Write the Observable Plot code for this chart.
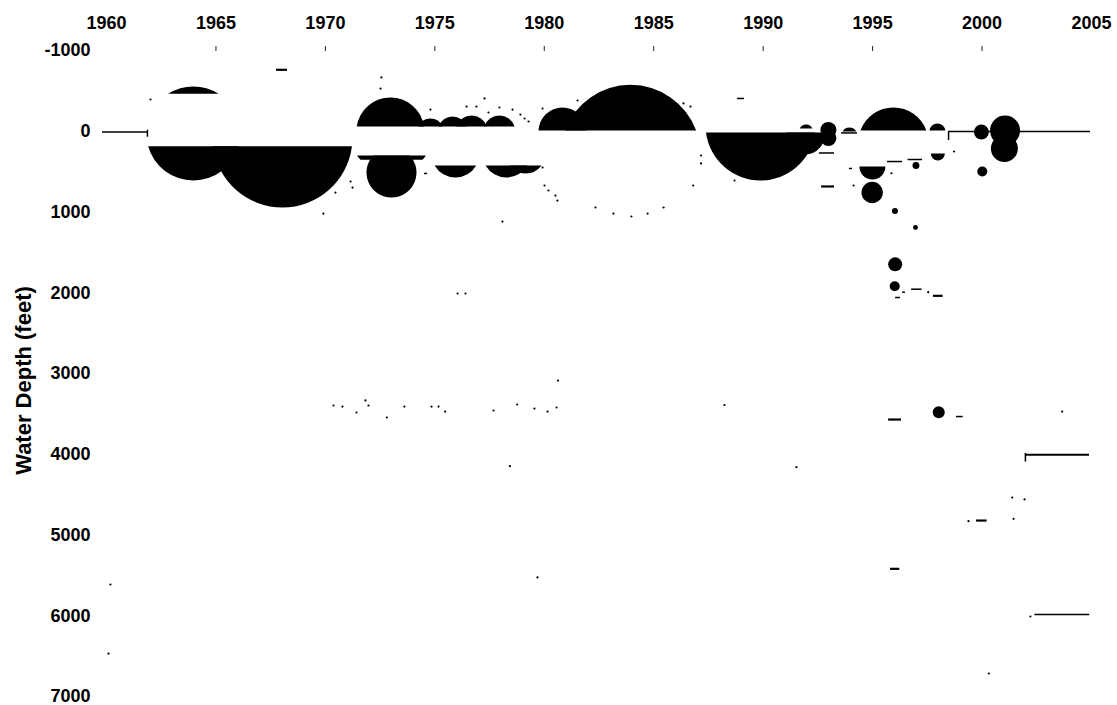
<!DOCTYPE html>
<html>
<head>
<meta charset="utf-8">
<script src="https://cdn.jsdelivr.net/npm/d3@7"></script>
<script src="https://cdn.jsdelivr.net/npm/@observablehq/plot@0.6"></script>
<style>
  html, body { margin: 0; padding: 0; background: #fff; }
  #chart svg { display: block; }
</style>
</head>
<body>
<div id="chart"></div>
<script>
// ---------- axis values ----------
const xLabelYears = [1960, 1965, 1970, 1975, 1980, 1985, 1990, 1995, 2000, 2005];
const xTickYears = [1965, 1970, 1975, 1980, 1985, 1990, 1995, 2000];
const yTickValues = [-1000, 0, 1000, 2000, 3000, 4000, 5000, 6000, 7000];
const yTitle = "Water Depth (feet)";

// ---------- bubbles (year, water depth, size) and the depth band in which each is visible ----------
const bubbleYear  = [1963.97, 1963.97, 1968.04, 1972.97, 1974.80, 1975.81, 1976.68, 1977.95, 1973.02, 1973.02,
                     1975.94, 1978.27, 1979.14, 1980.83, 1983.94, 1989.88, 1991.93, 1991.96, 1992.98, 1992.98,
                     1993.94, 1995.95, 1997.96, 1994.99, 1994.98, 1996.98, 1997.98, 2000.01, 1999.97, 2001.05,
                     2001.02, 1996.02, 1996.96, 1996.03, 1996.01, 1998.02];
const bubbleDepth = [28, 28, 77, 3, 3, 3, 3, 3, 3, 511,
                     276, 276, 276, 3, 292, -71, 52, 3, -16, 84,
                     52, 139, 3, 437, 759, 424, 276, 499, 9, -9,
                     214, 988, 1192, 1648, 1920, 3479];
const bubbleSize  = [2209, 2209, 4900, 1156, 169, 225, 256, 256, 1764, 625,
                     576, 576, 400, 576, 4900, 3025, 361, 49, 64, 64,
                     64, 1225, 64, 169, 114, 12, 49, 25, 56, 225,
                     182, 9, 6, 49, 25, 36];
const bubbleShowFrom = [null, 185, 185, null, null, null, null, null, 300, 300,
                        424, 424, 424, null, null, 16, 16, null, null, null,
                        null, null, null, 437, null, null, 276, null, null, null,
                        null, null, null, null, null, null];
const bubbleShowTo   = [-464, null, null, -59, -59, -59, -59, -59, 354, null,
                        null, null, null, -9, -9, null, null, -34, null, null,
                        3, -9, -9, null, null, null, null, null, null, null,
                        null, null, null, null, null, null];

// ---------- horizontal line pieces (from year, to year, depth) ----------
const thinFrom  = [1959.82, 1998.47, 1993.58, 1992.57, 1993.94, 1995.68, 1996.62, 1988.83, 1974.53, 1996.78, 1996.37, 1996.05, 1998.83, 2002.41];
const thinTo    = [1961.87, 2004.95, 1994.31, 1993.26, 1994.08, 1996.37, 1997.28, 1989.15, 1974.67, 1997.26, 1996.50, 1996.27, 1999.14, 2004.92];
const thinDepth = [10, 3, 21, 269, 461, 375, 350, -406, 523, 1956, 1993, 2059, 3533, 5985];

const thickFrom  = [1967.77, 1992.67, 1997.78, 1995.73, 2001.98, 1999.75, 1995.82];
const thickTo    = [1968.27, 1993.26, 1998.22, 1996.32, 2004.91, 2000.23, 1996.24];
const thickDepth = [-761, 684, 2038, 3570, 4006, 4821, 5419];

// ---------- short vertical marks (year, from depth, to depth) ----------
const vYear = [1961.87, 1998.47, 2001.98];
const vFrom = [-13, 15, 3990];
const vTo   = [74, 115, 4097];

// ---------- specks ----------
const speckYear  = [1962.01, 1972.56, 1972.52, 1974.80, 1976.45, 1976.90, 1977.27, 1977.45, 1977.95, 1978.55,
                    1978.91, 1979.10, 1979.28, 1979.92, 1981.52, 1986.36, 1986.68, 1986.80, 1987.16, 1987.16,
                    1988.69, 1970.46, 1971.15, 1971.24, 1969.91, 1978.09, 1979.92, 1980.01, 1980.19, 1980.51,
                    1980.60, 1976.04, 1976.40, 1980.63, 1970.37, 1970.78, 1971.42, 1971.83, 1971.97, 1972.81,
                    1973.61, 1974.85, 1975.17, 1975.47, 1977.68, 1978.76, 1979.55, 1980.15, 1980.56, 1978.43,
                    1979.69, 1988.23, 1991.52, 2001.38, 2001.94, 2001.44, 1999.38, 2002.21, 2000.31, 1960.18,
                    1960.09, 2003.66, 1994.13, 1998.72, 1995.86, 1997.54, 1982.34, 1983.16, 1983.98, 1984.72,
                    1985.45];
const speckDepth = [-393, -666, -529, -269, -306, -306, -406, -232, -294, -269,
                    -207, -158, -121, -282, -381, -344, -306, 672, 300, 399,
                    610, 759, 622, 697, 1019, 1118, 449, 672, 734, 796,
                    858, 2009, 2009, 3087, 3396, 3409, 3483, 3334, 3396, 3545,
                    3409, 3409, 3409, 3471, 3458, 3384, 3434, 3471, 3421, 4148,
                    5526, 3390, 4160, 4536, 4560, 4800, 4829, 6009, 6715, 5613,
                    6468, 3471, 672, 251, 520, 1993, 944, 1019, 1056, 1019,
                    944];

// ---------- layout ----------
const W = 1117, H = 705;
const M = {top: 50, right: 26, bottom: 9, left: 106};
const yOpts = {domain: [-1000, 7000], range: [M.top, H - M.bottom]};
const rOpts = {type: "sqrt", domain: [0, 10000], range: [0, 100]};
const yS = Plot.scale({y: yOpts});
const rS = Plot.scale({r: rOpts});

// symbol: the part of a circle between two horizontal chords (fractions of radius, -1 = top, 1 = bottom)
function segmentSymbol(t1, t2) {
  return {
    draw(ctx, size) {
      const r = Math.sqrt(size / Math.PI);
      const y1 = t1 * r, y2 = t2 * r;
      const w1 = Math.sqrt(Math.max(0, r * r - y1 * y1));
      const w2 = Math.sqrt(Math.max(0, r * r - y2 * y2));
      const a0 = Math.atan2(y1, w1), a1 = Math.atan2(y2, w2);
      let a2 = Math.atan2(y2, -w2), a3 = Math.atan2(y1, -w1);
      if (a2 < 0) a2 += 2 * Math.PI;
      if (a3 < 0) a3 += 2 * Math.PI;
      ctx.moveTo(-w1, y1);
      ctx.lineTo(w1, y1);
      if (a1 > a0) ctx.arc(0, 0, r, a0, a1, false);
      ctx.lineTo(-w2, y2);
      if (a3 > a2) ctx.arc(0, 0, r, a2, a3, false);
      ctx.closePath();
    }
  };
}
const clamp = (v) => Math.max(-1, Math.min(1, v));

const bubbles = bubbleYear.map((year, i) => ({
  year, depth: bubbleDepth[i], size: bubbleSize[i],
  from: bubbleShowFrom[i], to: bubbleShowTo[i]
}));

const bubbleMarks = bubbles.map((b) => {
  const cy = yS.apply(b.depth);
  const rp = rS.apply(b.size);
  const t1 = b.from == null ? -1 : clamp((yS.apply(b.from) - cy) / rp);
  const t2 = b.to == null ? 1 : clamp((yS.apply(b.to) - cy) / rp);
  return Plot.dot([b], {x: "year", y: "depth", r: "size", symbol: segmentSymbol(t1, t2), fill: "black", stroke: "none"});
});

const thinLines = thinFrom.map((from, i) => ({from, to: thinTo[i], depth: thinDepth[i]}));
const thickLines = thickFrom.map((from, i) => ({from, to: thickTo[i], depth: thickDepth[i]}));
const vLines = vYear.map((year, i) => ({year, from: vFrom[i], to: vTo[i]}));
const specks = speckYear.map((year, i) => ({year, depth: speckDepth[i]}));

const font = "'Liberation Sans', Arial, Helvetica, sans-serif";

const chart = Plot.plot({
  width: W,
  height: H,
  marginTop: M.top,
  marginRight: M.right,
  marginBottom: M.bottom,
  marginLeft: M.left,
  style: {fontFamily: font, background: "#fff", color: "#000"},
  x: {domain: [1960, 2005]},
  y: yOpts,
  r: rOpts,
  marks: [
    Plot.axisX({anchor: "top", ticks: xLabelYears, tickSize: 0, tickPadding: 22,
      tickFormat: (d) => String(d), fontSize: 18, fontWeight: "bold", label: null}),
    Plot.axisX({anchor: "top", ticks: xTickYears, tickSize: 5, tickFormat: () => "", label: null, stroke: "#222"}),
    Plot.axisY({anchor: "left", ticks: yTickValues, tickSize: 0, tickPadding: 16,
      tickFormat: (d) => String(d), fontSize: 18, fontWeight: "bold", label: null}),
    Plot.text([yTitle], {text: (d) => d, frameAnchor: "left", dx: -83, dy: 7, rotate: -90,
      fontSize: 22, fontWeight: "bold", textAnchor: "middle", lineAnchor: "middle", fill: "black"}),
    ...bubbleMarks,
    Plot.ruleY(thinLines, {y: "depth", x1: "from", x2: "to", stroke: "black", strokeWidth: 1.5}),
    Plot.ruleY(thickLines, {y: "depth", x1: "from", x2: "to", stroke: "black", strokeWidth: 2.2}),
    Plot.ruleX(vLines, {x: "year", y1: "from", y2: "to", stroke: "black", strokeWidth: 1.5}),
    Plot.dot(specks, {x: "year", y: "depth", r: 1.1, fill: "black", stroke: "none"})
  ]
});

document.getElementById("chart").appendChild(chart);
</script>
</body>
</html>
